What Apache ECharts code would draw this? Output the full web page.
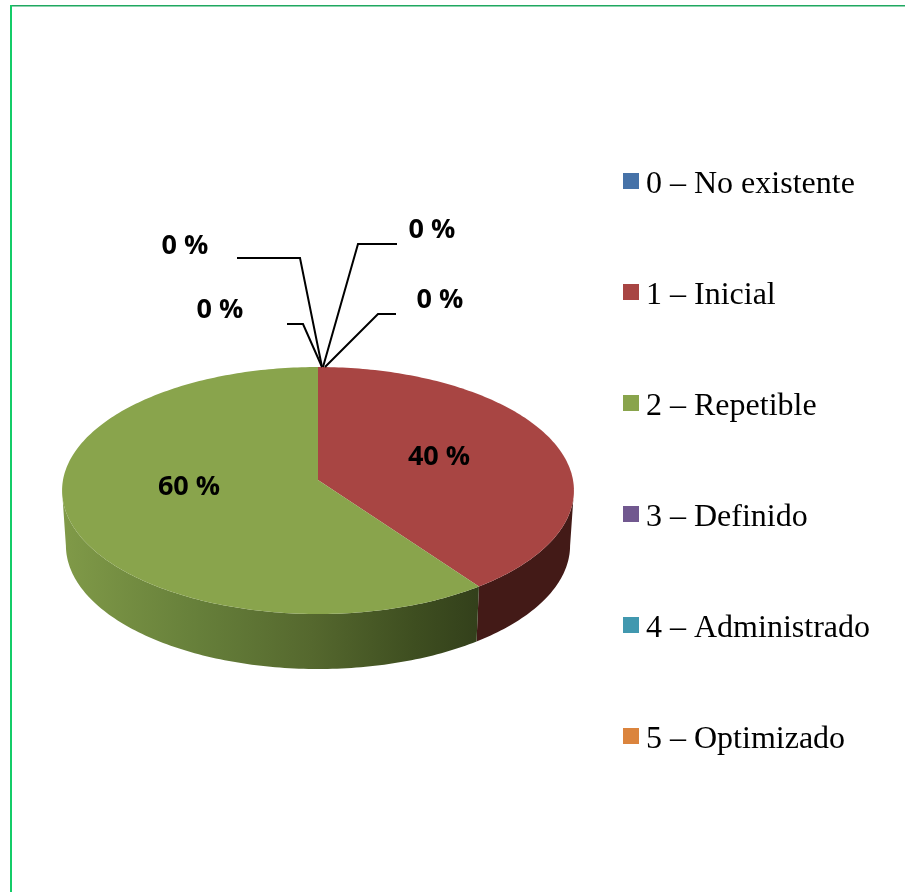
<!DOCTYPE html>
<html><head><meta charset="utf-8">
<style>html,body{margin:0;padding:0;background:#fff}#c{width:905px;height:892px}</style>
<script src="https://cdn.jsdelivr.net/npm/echarts@6/dist/echarts.min.js"></script>
</head><body><div id="c"></div>
<script>
const categories = ['0 – No existente','1 – Inicial','2 – Repetible','3 – Definido','4 – Administrado','5 – Optimizado'];
const values = [0, 40, 60, 0, 0, 0];
const percentLabels = ['0 %','40 %','60 %','0 %','0 %','0 %'];
const colors = ['#4672a8','#a84543','#89a44c','#71588f','#4198af','#db843d'];

// Layout: pie projection and label placement (no data here)
const CX = 318, K = 255, A = 81.8, B = 480, C = -0.085, DEPTH = 55, SHRINK = 0.985;
const labelPos = [[440,300],[439,457],[189,487],[220,310],[185,246],[432,230]];
const leaders = [
  [[396,314],[378,314]], null, null,
  [[287,324],[303,324]],
  [[237,258],[300,258]],
  [[397,244],[358,244]]
];
const leaderEndDx = [7, 0, 0, 4, 4, 5];

function project(deg) {
  const t = deg * Math.PI / 180, u = Math.sin(t), v = -Math.cos(t), w = 1 + C * v;
  return [CX + K * u / w, (A * v + B) / w];
}
const total = values.reduce((a, b) => a + b, 0);
const starts = values.map((_, i) => values.slice(0, i).reduce((a, b) => a + b, 0));
const apex = [CX, B];

function arc(a0, a1) {
  const pts = [], n = Math.max(2, Math.ceil(Math.abs(a1 - a0)));
  for (let i = 0; i <= n; i++) pts.push(project(a0 + (a1 - a0) * i / n));
  return pts;
}
function lower(p) { return [CX + (p[0] - CX) * SHRINK, p[1] + DEPTH]; }

const wallFill = [
  null,
  '#431a17',
  { type: 'linear', x: 62, y: 0, x2: 478, y2: 0, global: true, colorStops: [
    { offset: 0, color: '#809a48' }, { offset: 0.33, color: '#667f3a' },
    { offset: 0.6, color: '#55682e' }, { offset: 0.85, color: '#3e4e20' }, { offset: 1, color: '#33401b' } ] }
];

function renderSlice(idx) {
  return function (params, api) {
    const value = api.value(0), start = api.value(1);
    const a0 = start / total * 360, a1 = (start + value) / total * 360;
    const children = [];
    if (value > 0) {
      const w0 = Math.max(a0, 95), w1 = Math.min(a1, 265);
      if (w1 > w0) {
        const top = arc(w0, w1);
        children.push({ type: 'polygon', shape: { points: top.concat(top.map(lower).reverse()) },
          style: { fill: wallFill[idx] || colors[idx] } });
      }
      children.push({ type: 'polygon', shape: { points: [apex].concat(arc(a0, a1)) },
        style: { fill: colors[idx] } });
    } else if (leaders[idx]) {
      const rim = project(a0);
      children.push({ type: 'polyline', z2: 5,
        shape: { points: leaders[idx].concat([[rim[0] + leaderEndDx[idx], rim[1]]]) },
        style: { stroke: '#000', lineWidth: 2, fill: null } });
    }
    children.push({ type: 'text', z2: 6, x: labelPos[idx][0], y: labelPos[idx][1],
      style: { text: percentLabels[idx], fill: '#000', font: 'bold 27px "Open Sans", sans-serif',
        align: 'center', verticalAlign: 'middle' } });
    return { type: 'group', children };
  };
}

const chart = echarts.init(document.getElementById('c'), null, { renderer: 'canvas' });
chart.setOption({
  animation: false,
  backgroundColor: '#fff',
  color: colors,
  legend: {
    orient: 'vertical', left: 618, top: 156, itemWidth: 16, itemHeight: 16, itemGap: 71, icon: 'rect',
    selectedMode: false, data: categories,
    formatter: '{t|{name}}',
    textStyle: { rich: { t: { fontFamily: '"Liberation Serif", serif', fontSize: 32, color: '#000', padding: [8,0,0,2], lineHeight: 36 } } }
  },
  graphic: [
    { type: 'rect', shape: { x: 10, y: 5, width: 895, height: 1.5 }, style: { fill: '#1fa860' } },
    { type: 'rect', shape: { x: 10, y: 5, width: 2, height: 887 }, style: { fill: '#14cc68' } }
  ],
  series: categories.map((name, i) => ({
    type: 'custom', name, coordinateSystem: 'none', silent: true,
    itemStyle: { color: colors[i] },
    z: i === 1 || i === 2 ? 2 : 3,
    renderItem: renderSlice(i),
    data: [[values[i], starts[i]]]
  }))
});
</script></body></html>
